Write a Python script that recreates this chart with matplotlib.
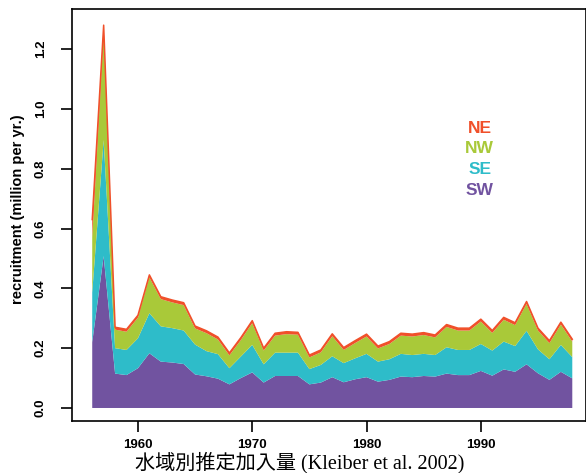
import numpy as np
import matplotlib
matplotlib.use('Agg')
import matplotlib.pyplot as plt

# Data (million recruits per year)
years = list(range(1956, 1999))

SW = [0.220, 0.508, 0.115, 0.110, 0.133, 0.183, 0.155, 0.152, 0.147, 0.112,
      0.106, 0.098, 0.079, 0.100, 0.119, 0.085, 0.107, 0.107, 0.107, 0.079,
      0.085, 0.103, 0.086, 0.096, 0.103, 0.088, 0.094, 0.105, 0.103, 0.107,
      0.105, 0.115, 0.110, 0.110, 0.124, 0.108, 0.129, 0.121, 0.146, 0.116,
      0.094, 0.121, 0.099]

SE = [0.166, 0.388, 0.085, 0.084, 0.100, 0.134, 0.118, 0.115, 0.112, 0.100,
      0.084, 0.082, 0.054, 0.072, 0.092, 0.061, 0.078, 0.078, 0.078, 0.051,
      0.059, 0.070, 0.064, 0.070, 0.078, 0.067, 0.069, 0.076, 0.074, 0.074,
      0.072, 0.088, 0.084, 0.084, 0.090, 0.084, 0.093, 0.086, 0.112, 0.080,
      0.069, 0.090, 0.071]

NW = [0.184, 0.354, 0.062, 0.061, 0.069, 0.120, 0.091, 0.086, 0.085, 0.054,
      0.060, 0.049, 0.043, 0.055, 0.073, 0.046, 0.057, 0.062, 0.060, 0.039,
      0.042, 0.067, 0.044, 0.051, 0.058, 0.044, 0.051, 0.061, 0.062, 0.063,
      0.059, 0.068, 0.065, 0.065, 0.075, 0.059, 0.073, 0.070, 0.090, 0.063,
      0.054, 0.068, 0.052]

NE = [0.060, 0.030, 0.008, 0.008, 0.008, 0.008, 0.008, 0.008, 0.008, 0.008,
      0.008, 0.008, 0.008, 0.008, 0.008, 0.008, 0.008, 0.008, 0.008, 0.008,
      0.008, 0.008, 0.008, 0.008, 0.008, 0.008, 0.008, 0.008, 0.008, 0.008,
      0.008, 0.008, 0.008, 0.008, 0.008, 0.008, 0.008, 0.008, 0.008, 0.008,
      0.008, 0.008, 0.008]

regions = ['NE', 'NW', 'SE', 'SW']
colors = {'SW': '#7153a0', 'SE': '#2ebcc9', 'NW': '#a9c939', 'NE': '#f0502a'}

fig = plt.figure(figsize=(5.86, 4.73), dpi=100)
ax = fig.add_axes([72/586, 52/473, 514/586, 412/473])

ax.stackplot(years, SW, SE, NW, NE,
             colors=[colors['SW'], colors['SE'], colors['NW'], colors['NE']],
             linewidth=0)
total = np.array(SW) + np.array(SE) + np.array(NW) + np.array(NE)
ax.plot(years, total, color=colors['NE'], lw=1.1)

ax.set_xlim(1954.23, 1999.2)
ax.set_ylim(-0.0435, 1.334)
ax.set_xticks([1960, 1970, 1980, 1990])
ax.set_yticks([0.0, 0.2, 0.4, 0.6, 0.8, 1.0, 1.2])
ax.set_yticklabels(['0.0', '0.2', '0.4', '0.6', '0.8', '1.0', '1.2'],
                   rotation=90, va='center')
ax.tick_params(direction='out', length=8, width=1.2, labelsize=9.5)
ax.tick_params(axis='y', pad=10)
ax.tick_params(axis='x', pad=5)
for lab in ax.get_xticklabels() + ax.get_yticklabels():
    lab.set_fontweight('bold')
    lab.set_family('Liberation Sans')
for sp in ax.spines.values():
    sp.set_linewidth(1.2)

ax.set_ylabel('recruitment (million per yr.)', fontsize=10.5, fontweight='bold',
              family='Liberation Sans', labelpad=5)
ax.yaxis.set_label_coords(-0.092, 0.515)

# coloured text legend
ly = [0.936, 0.866, 0.796, 0.726]
for name, y in zip(regions, ly):
    ax.text(1989.9, y, name, color=colors[name], fontsize=12.5, fontweight='bold',
            family='Liberation Sans', ha='center', va='center')

fig.text(300/586, 1 - 463/473, '水域別推定加入量 (Kleiber et al. 2002)',
         family=['Liberation Serif', 'Noto Sans CJK JP'], fontsize=14.5,
         ha='center', va='center')

fig.savefig('out.png', dpi=100)
